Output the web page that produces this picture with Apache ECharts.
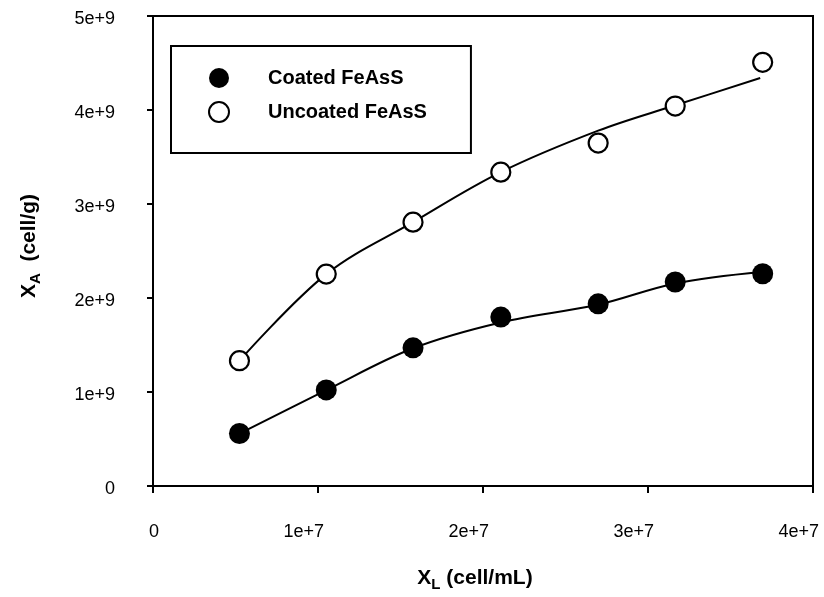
<!DOCTYPE html>
<html>
<head>
<meta charset="utf-8">
<script src="https://cdn.jsdelivr.net/npm/echarts@6/dist/echarts.min.js"></script>
<style>
html,body{margin:0;padding:0;background:#fff;}
#chart{width:824px;height:597px;}
</style>
</head>
<body>
<div id="chart"></div>
<script>
// ---- data ----
const seriesNames = ['Coated FeAsS', 'Uncoated FeAsS'];
const xL = [5.24e6, 10.5e6, 15.76e6, 21.08e6, 26.98e6, 31.65e6, 36.95e6];
const coated = [0.558e9, 1.022e9, 1.470e9, 1.797e9, 1.938e9, 2.170e9, 2.258e9];
const uncoated = [1.333e9, 2.254e9, 2.807e9, 3.339e9, 3.648e9, 4.042e9, 4.507e9];
// fitted curves
const coatedFitX = [5.24e6, 10.5e6, 15.76e6, 21.08e6, 26.98e6, 31.65e6, 36.95e6];
const coatedFit = [0.558e9, 1.02e9, 1.465e9, 1.74e9, 1.93e9, 2.155e9, 2.28e9];
const uncoatedFitX = [5.24e6, 10.5e6, 15.76e6, 21.08e6, 26.98e6, 31.65e6, 36.8e6];
const uncoatedFit = [1.333e9, 2.254e9, 2.807e9, 3.339e9, 3.78e9, 4.05e9, 4.34e9];
const xTickLabels = ['0', '1e+7', '2e+7', '3e+7', '4e+7'];
const yTickLabels = ['0', '1e+9', '2e+9', '3e+9', '4e+9', '5e+9'];

const pairs = (xs, ys) => xs.map((x, i) => [x, ys[i]]);
const FONT = '"Liberation Sans", Arial, Helvetica, sans-serif';

const chart = echarts.init(document.getElementById('chart'), null, {renderer: 'canvas'});
chart.setOption({
  animation: false,
  backgroundColor: '#fff',
  textStyle: {fontFamily: FONT},
  grid: {left: 153, right: 11, top: 16, bottom: 108, show: true, borderColor: '#000', borderWidth: 2},
  legend: {
    orient: 'vertical', left: 171, top: 46,
    padding: [22, 44, 30, 37],
    borderColor: '#000', borderWidth: 2,
    itemWidth: 20, itemHeight: 20, itemGap: 13,
    icon: 'circle',
    data: seriesNames,
    textStyle: {fontFamily: FONT, fontWeight: 'bold', fontSize: 20, color: '#000', padding: [0, 0, 0, 34]}
  },
  xAxis: {
    type: 'value', min: 0, max: 4e7, interval: 1e7,
    axisLine: {show: true, lineStyle: {color: '#000', width: 2}},
    axisTick: {show: true, inside: false, length: 7, lineStyle: {color: '#000', width: 2}},
    splitLine: {show: false},
    axisLabel: {
      color: '#000', fontSize: 18, fontFamily: FONT, margin: 37, align: 'right', padding: [0, -6, 0, 0],
      formatter: v => xTickLabels[Math.round(v / 1e7)]
    },
    name: '{b|X}{s|L}{b| (cell/mL)}', nameLocation: 'middle', nameGap: 78,
    nameTextStyle: {
      padding: [0, 16, 0, 0],
      rich: {
        b: {fontFamily: FONT, fontWeight: 'bold', fontSize: 21, color: '#000'},
        s: {fontFamily: FONT, fontWeight: 'bold', fontSize: 15, color: '#000', padding: [13, 0, 0, 0]}
      }
    }
  },
  yAxis: {
    type: 'value', min: 0, max: 5e9, interval: 1e9,
    axisLine: {show: true, lineStyle: {color: '#000', width: 2}},
    axisTick: {show: true, inside: false, length: 6, lineStyle: {color: '#000', width: 2}},
    splitLine: {show: false},
    axisLabel: {
      color: '#000', fontSize: 18, fontFamily: FONT, margin: 38,
      formatter: v => '{t|' + yTickLabels[Math.round(v / 1e9)] + '}',
      rich: {
        t: {fontFamily: FONT, fontSize: 18, color: '#000', padding: [7, 0, 0, 0]}
      }
    },
    name: '{b|X}{s|A}{b|  (cell/g)}', nameLocation: 'middle', nameGap: 110, nameRotate: 90,
    nameTextStyle: {
      padding: [0, 0, 0, 10],
      rich: {
        b: {fontFamily: FONT, fontWeight: 'bold', fontSize: 21, color: '#000'},
        s: {fontFamily: FONT, fontWeight: 'bold', fontSize: 15, color: '#000', padding: [13, 0, 0, 0]}
      }
    }
  },
  series: [
    {
      name: 'coatedFit', type: 'line', data: pairs(coatedFitX, coatedFit),
      smooth: 0.35, showSymbol: false, symbol: 'none', z: 2,
      lineStyle: {color: '#000', width: 2}
    },
    {
      name: 'uncoatedFit', type: 'line', data: pairs(uncoatedFitX, uncoatedFit),
      smooth: 0.35, showSymbol: false, symbol: 'none', z: 2,
      lineStyle: {color: '#000', width: 2}
    },
    {
      name: seriesNames[0], type: 'scatter', data: pairs(xL, coated),
      symbol: 'circle', symbolSize: 21, z: 5,
      itemStyle: {color: '#000', opacity: 1}
    },
    {
      name: seriesNames[1], type: 'scatter', data: pairs(xL, uncoated),
      symbol: 'circle', symbolSize: 19, z: 5,
      itemStyle: {color: '#fff', borderColor: '#000', borderWidth: 2.2, opacity: 1}
    }
  ]
});
</script>
</body>
</html>
